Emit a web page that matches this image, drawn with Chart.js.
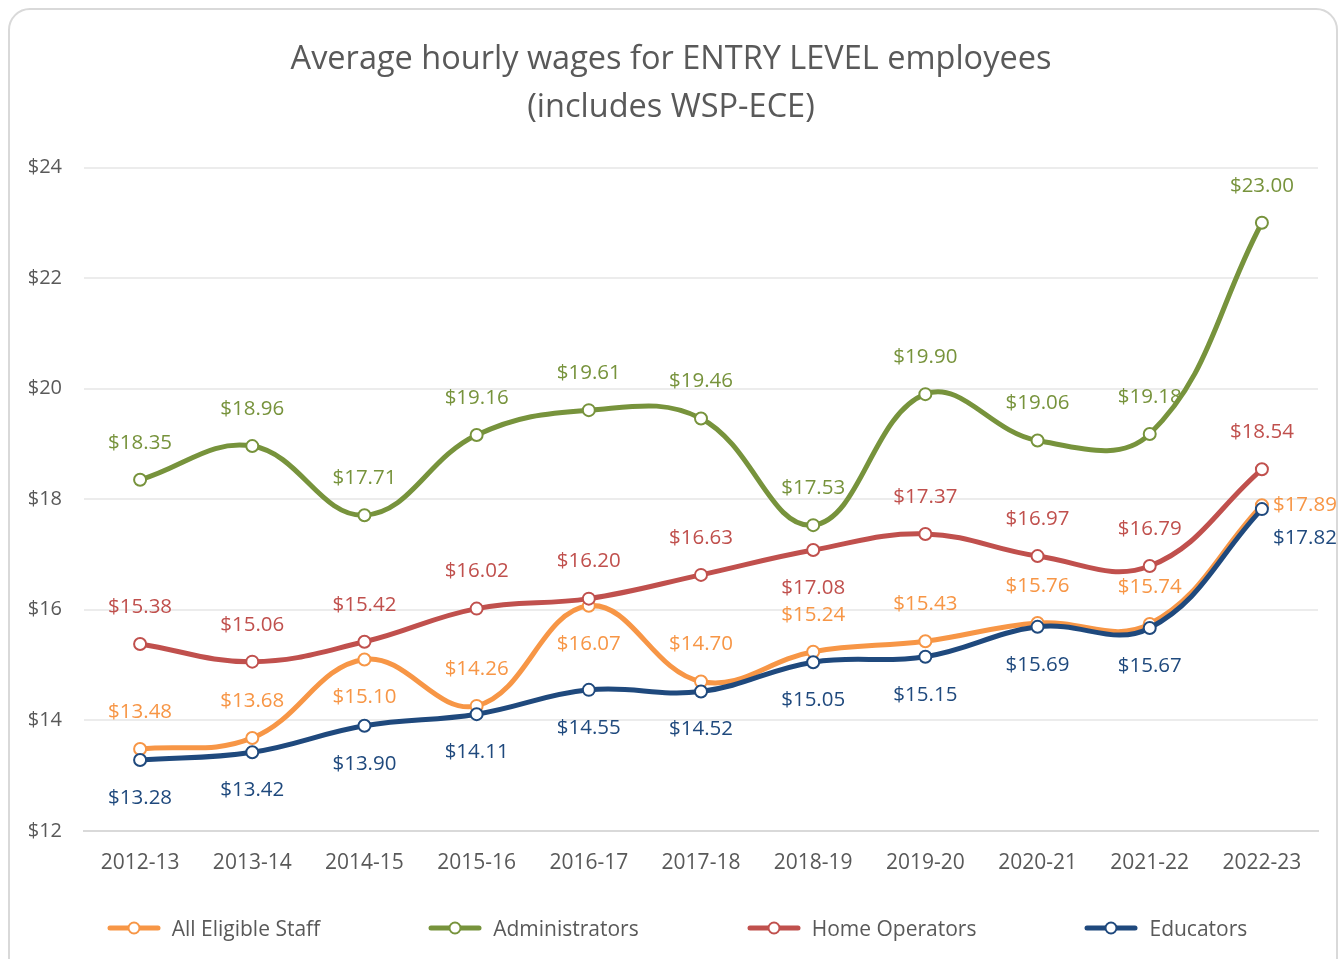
<!DOCTYPE html>
<html>
<head>
<meta charset="utf-8">
<script src="https://cdn.jsdelivr.net/npm/chart.js@4/dist/chart.umd.min.js"></script>
<style>
  body { margin: 0; background: #fff; overflow: hidden; font-family: 'Open Sans', 'Noto Sans', sans-serif; }
  #card {
    position: absolute; left: 8px; top: 8px; width: 1326px; height: 980px;
    border: 2px solid #d9d9d9; border-radius: 22px; background: #fff; overflow: hidden;
  }
  #card canvas { display: block; }
  #leyenda {
    position: absolute; left: 4px; top: 904px; width: 1326px;
    display: flex; justify-content: center; gap: 108px;
    color: #595959; font-size: 21px;
  }
  #leyenda .item { display: flex; align-items: center; gap: 11px; white-space: nowrap; }
</style>
</head>
<body>
<div id="card">
  <canvas id="grafico" width="1326" height="951"></canvas>
  <div id="leyenda"></div>
</div>
<script>
// datos
const years = ['2012-13', '2013-14', '2014-15', '2015-16', '2016-17', '2017-18', '2018-19', '2019-20', '2020-21', '2021-22', '2022-23'];
const allStaff = [13.48, 13.68, 15.10, 14.26, 16.07, 14.70, 15.24, 15.43, 15.76, 15.74, 17.89];
const administrators = [18.35, 18.96, 17.71, 19.16, 19.61, 19.46, 17.53, 19.90, 19.06, 19.18, 23.00];
const homeOperators = [15.38, 15.06, 15.42, 16.02, 16.20, 16.63, 17.08, 17.37, 16.97, 16.79, 18.54];
const educators = [13.28, 13.42, 13.90, 14.11, 14.55, 14.52, 15.05, 15.15, 15.69, 15.67, 17.82];
const yTicks = [12, 14, 16, 18, 20, 22, 24];

// donde va cada etiqueta respecto al punto
const posAll = ['up', 'up', 'down', 'up', 'down', 'up', 'up', 'up', 'up', 'up', 'right'];
const posAdmin = years.map(() => 'up');
const posHome = ['up', 'up', 'up', 'up', 'up', 'up', 'down', 'up', 'up', 'up', 'up'];
const posEdu = ['down', 'down', 'down', 'down', 'down', 'down', 'down', 'down', 'down', 'down', 'rightDown'];

const offsets = { up: [0, -37], down: [0, 38], right: [43, 0], rightDown: [43, 29] };
const FONT = "'Open Sans', 'Noto Sans', sans-serif";

//icono de leyenda: linea con circulo
function legendIcon(color) {
    const c = document.createElement('canvas');
    c.width = 54; c.height = 16;
    const g = c.getContext('2d');
    g.strokeStyle = color; g.lineWidth = 5; g.lineCap = 'round';
    g.beginPath(); g.moveTo(3, 8); g.lineTo(51, 8); g.stroke();
    g.fillStyle = '#fff'; g.lineWidth = 2;
    g.beginPath(); g.arc(27, 8, 5.5, 0, Math.PI * 2); g.fill(); g.stroke();
    return c;
}

function serie(label, data, color, pos, order) {
    return {
        label: label,
        data: data,
        borderColor: color,
        backgroundColor: color,
        borderWidth: 5,
        tension: 0.4,
        pointRadius: 6,
        pointBorderWidth: 2,
        pointBackgroundColor: '#fff',
        pointBorderColor: color,
        labelPos: pos,
        order: order
    };
}

const datasets = [
    serie('All Eligible Staff', allStaff, '#f79646', posAll, 4),
    serie('Administrators', administrators, '#77933c', posAdmin, 3),
    serie('Home Operators', homeOperators, '#c0504d', posHome, 2),
    serie('Educators', educators, '#1f497d', posEdu, 1)
];

// etiquetas de valor sobre cada punto
const labelsPlugin = {
    id: 'etiquetas',
    afterDatasetsDraw(chart) {
        const ctx = chart.ctx;
        ctx.save();
        ctx.font = '20.5px ' + FONT;
        ctx.textAlign = 'center';
        ctx.textBaseline = 'middle';
        chart.data.datasets.forEach((ds, i) => {
            const meta = chart.getDatasetMeta(i);
            meta.data.forEach((pt, j) => {
                const off = offsets[ds.labelPos[j]];
                ctx.fillStyle = ds.borderColor;
                ctx.fillText('$' + ds.data[j].toFixed(2), pt.x + off[0], pt.y + off[1]);
            });
        });
        ctx.restore();
    }
};

new Chart(document.getElementById('grafico').getContext('2d'), {
    type: 'line',
    data: { labels: years, datasets: datasets },
    plugins: [labelsPlugin],
    options: {
        responsive: false,
        animation: false,
        layout: { padding: { left: 14, right: 18, top: 0, bottom: 65 } },
        plugins: {
            title: {
                display: true,
                text: ['Average hourly wages for ENTRY LEVEL employees', '(includes WSP-ECE)'],
                color: '#595959',
                font: { family: FONT, size: 32.5, weight: 'normal', lineHeight: 1.5 },
                padding: { top: 25, bottom: 35 }
            },
            legend: { display: false },
            tooltip: { enabled: false }
        },
        scales: {
            x: {
                offset: true,
                grid: { display: false, drawTicks: false },
                border: { display: true, color: '#d9d9d9', width: 2 },
                ticks: { color: '#595959', font: { family: FONT, size: 21 }, padding: 20 }
            },
            y: {
                min: yTicks[0],
                max: yTicks[yTicks.length - 1],
                afterBuildTicks(axis) { axis.ticks = yTicks.map(v => ({ value: v })); },
                afterFit(axis) { axis.width = 60; },
                grid: { color: '#ececec', lineWidth: 2, drawTicks: false },
                border: { display: false },
                ticks: {
                    color: '#595959',
                    font: { family: FONT, size: 20 },
                    padding: 22,
                    callback: v => '$' + v
                }
            }
        }
    }
});

// leyenda en html
const leyenda = document.getElementById('leyenda');
datasets.forEach(ds => {
    const item = document.createElement('div');
    item.className = 'item';
    item.appendChild(legendIcon(ds.borderColor));
    const txt = document.createElement('span');
    txt.textContent = ds.label;
    item.appendChild(txt);
    leyenda.appendChild(item);
});
</script>
</body>
</html>
